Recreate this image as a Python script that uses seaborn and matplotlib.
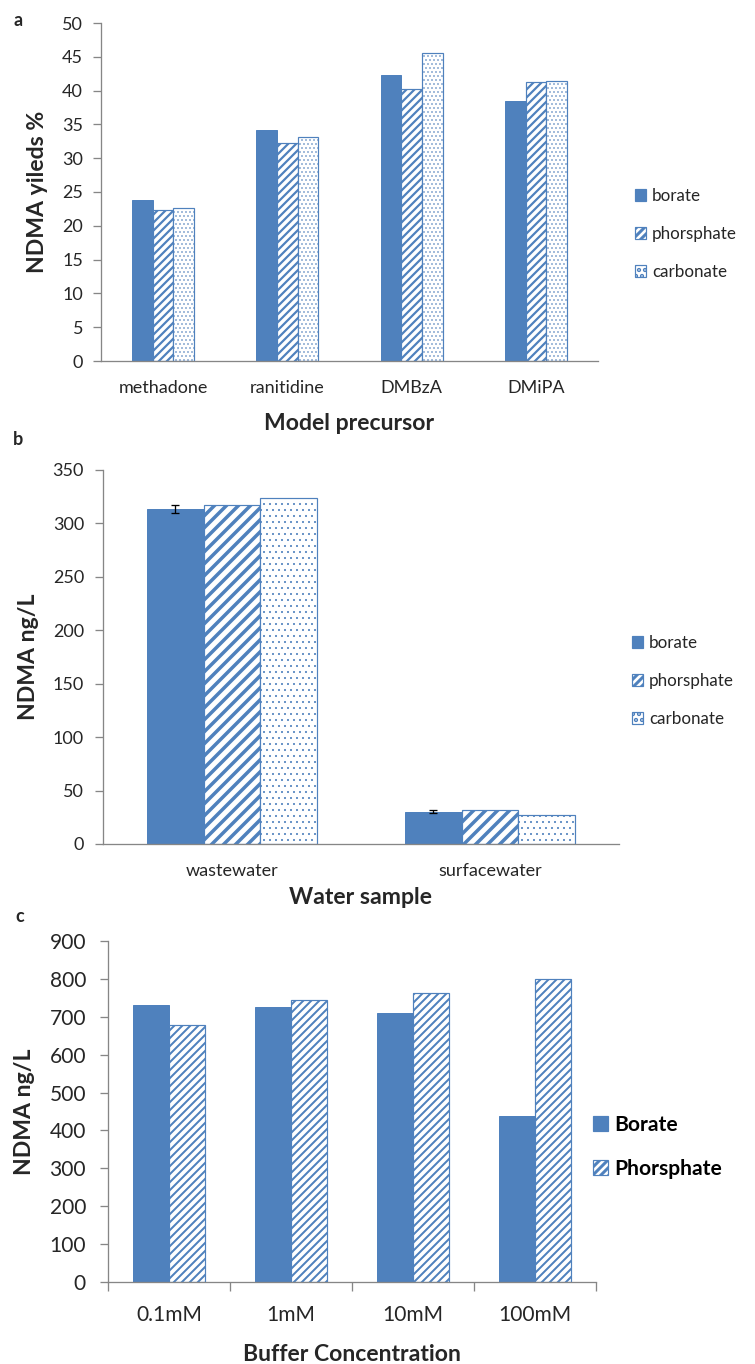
import pandas as pd
import matplotlib
matplotlib.use("Agg")
import matplotlib.pyplot as plt
import matplotlib.patches as mpatches
import seaborn as sns

# Datos del panel a
precursores = ["methadone", "ranitidine", "DMBzA", "DMiPA"]
borate_a = [23.8, 34.2, 42.3, 38.5]
phos_a = [22.3, 32.2, 40.3, 41.2]
carb_a = [22.7, 33.2, 45.6, 41.4]

# Datos del panel b
muestras = ["wastewater", "surfacewater"]
borate_b = [313.5, 30.2]
phos_b = [317.5, 31.8]
carb_b = [323.5, 26.8]
err_borate_b = [3.5, 1.6]

# Datos del panel c
concentraciones = ["0.1mM", "1mM", "10mM", "100mM"]
borate_c = [731, 727, 709, 439]
phos_c = [678, 743, 764, 800]

buffers = ["borate", "phorsphate", "carbonate"]
buffers_c = ["Borate", "Phorsphate"]

AZUL = "#4F81BD"
GRIS = "#868686"
TEXTO = "#262626"

sns.set_style("white")
plt.rcParams["font.family"] = ["Lato", "DejaVu Sans"]
plt.rcParams["hatch.linewidth"] = 3.0

W, H = 755, 1364
fig = plt.figure(figsize=(W / 72, H / 72), dpi=72)


def caja(l, t, r, b):
    return [l / W, 1 - b / H, (r - l) / W, (b - t) / H]


def estilo(ax, ymax, paso, fs, pad):
    ax.set_ylim(0, ymax)
    ax.set_yticks(range(0, ymax + 1, paso))
    for s in ["top", "right"]:
        ax.spines[s].set_visible(False)
    for s in ["left", "bottom"]:
        ax.spines[s].set_color(GRIS)
        ax.spines[s].set_linewidth(1.3)
    ax.tick_params(axis="y", length=8, width=1.3, color=GRIS, pad=pad,
                   labelsize=fs, labelcolor=TEXTO, left=True)
    ax.grid(False)


def rellenos(ax, estilos):
    for cont, (hatch, lw) in zip(ax.containers, estilos):
        for p in cont:
            if hatch is None:
                p.set_facecolor(AZUL)
                p.set_edgecolor(AZUL)
            else:
                p.set_facecolor("white")
                p.set_edgecolor(AZUL)
                p.set_hatch(hatch)
                p.set_linewidth(1.2)
                if hasattr(p, "set_hatch_linewidth"):
                    p.set_hatch_linewidth(lw)


def mango(hatch, lw):
    h = mpatches.Patch(facecolor=AZUL if hatch is None else "white",
                       edgecolor=AZUL, hatch=hatch, linewidth=1.2)
    if hatch is not None and hasattr(h, "set_hatch_linewidth"):
        h.set_hatch_linewidth(lw)
    return h


def etiquetas(ax, xl, yl, xpos, ypos, fs):
    ax.set_xlabel(xl, fontsize=fs, fontweight="bold")
    ax.set_ylabel(yl, fontsize=fs, fontweight="bold")
    ax.xaxis.label.set_va("center")
    ax.yaxis.label.set_va("center")
    ax.xaxis.set_label_coords(0.5, xpos)
    ax.yaxis.set_label_coords(ypos, 0.5)


# ---------- Panel a ----------
df_a = pd.DataFrame({
    "precursor": precursores * 3,
    "valor": borate_a + phos_a + carb_a,
    "buffer": sum([[b] * len(precursores) for b in buffers], []),
})
ax1 = fig.add_axes(caja(101, 23, 598, 361))
sns.barplot(data=df_a, x="precursor", y="valor", hue="buffer", hue_order=buffers,
            palette=[AZUL] * 3, width=0.5, gap=0, errorbar=None, legend=False, ax=ax1)
estilo(ax1, 50, 5, 18, 10)
est_a = [(None, 0), ("///", 2.2), ("...", 0.7)]
rellenos(ax1, est_a)
ax1.set_xlim(-0.5, 3.5)
ax1.tick_params(axis="x", length=0, pad=19, labelsize=18, labelcolor=TEXTO)
etiquetas(ax1, "Model precursor", "NDMA yileds %", -0.186, -0.127, 23)
ax1.legend([mango(h, lw) for h, lw in [(None, 0), ("///", 2.0), ("..", 0.8)]],
           buffers, loc="center left",
           bbox_to_anchor=(635 / W, 1 - 234 / H), bbox_transform=fig.transFigure,
           frameon=False, fontsize=17, handlelength=0.65, handleheight=0.65,
           labelspacing=1.3, handletextpad=0.35, borderpad=0, borderaxespad=0,
           labelcolor=TEXTO)
fig.text(13 / W, 1 - 20 / H, "a", fontsize=18, fontweight="bold", va="center")

# ---------- Panel b ----------
df_b = pd.DataFrame({
    "muestra": muestras * 3,
    "valor": borate_b + phos_b + carb_b,
    "buffer": sum([[b] * len(muestras) for b in buffers], []),
})
ax2 = fig.add_axes(caja(103, 470, 619, 844))
sns.barplot(data=df_b, x="muestra", y="valor", hue="buffer", hue_order=buffers,
            palette=[AZUL] * 3, width=0.66, gap=0, errorbar=None, legend=False, ax=ax2)
estilo(ax2, 350, 50, 18, 11)
est_b = [(None, 0), ("//", 3.5), ("..", 0.8)]
rellenos(ax2, est_b)
ax2.set_xlim(-0.5, 1.5)
xs = [p.get_x() + p.get_width() / 2 for p in ax2.containers[0]]
ax2.errorbar(xs, borate_b, yerr=err_borate_b, fmt="none", ecolor="black",
             elinewidth=1.3, capsize=4, capthick=1.3)
ax2.tick_params(axis="x", length=0, pad=19, labelsize=18, labelcolor=TEXTO)
etiquetas(ax2, "Water sample", "NDMA ng/L", -0.142, -0.145, 23)
ax2.legend([mango(h, lw) for h, lw in [(None, 0), ("///", 2.0), ("..", 0.8)]],
           buffers, loc="center left",
           bbox_to_anchor=(632 / W, 1 - 681 / H), bbox_transform=fig.transFigure,
           frameon=False, fontsize=17, handlelength=0.65, handleheight=0.65,
           labelspacing=1.3, handletextpad=0.35, borderpad=0, borderaxespad=0,
           labelcolor=TEXTO)
fig.text(13 / W, 1 - 440 / H, "b", fontsize=18, fontweight="bold", va="center")

# ---------- Panel c ----------
df_c = pd.DataFrame({
    "conc": concentraciones * 2,
    "valor": borate_c + phos_c,
    "buffer": sum([[b] * len(concentraciones) for b in buffers_c], []),
})
ax3 = fig.add_axes(caja(108, 941, 596, 1282))
sns.barplot(data=df_c, x="conc", y="valor", hue="buffer", hue_order=buffers_c,
            palette=[AZUL] * 2, width=0.59, gap=0, errorbar=None, legend=False, ax=ax3)
estilo(ax3, 900, 100, 21, 14)
est_c = [(None, 0), ("///", 2.0)]
rellenos(ax3, est_c)
ax3.set_xlim(-0.5, 3.5)
ax3.set_xticks([i - 0.5 for i in range(len(concentraciones) + 1)], minor=True)
ax3.tick_params(axis="x", which="minor", length=9, width=1.3, color=GRIS, bottom=True)
ax3.tick_params(axis="x", which="major", length=0, pad=23, labelsize=21, labelcolor=TEXTO)
etiquetas(ax3, "Buffer Concentration", "NDMA ng/L", -0.214, -0.172, 23)
ax3.legend([mango(h, lw) for h, lw in est_c], buffers_c, loc="center left",
           bbox_to_anchor=(593 / W, 1 - 1147 / H), bbox_transform=fig.transFigure,
           frameon=False, prop={"weight": "bold", "size": 21},
           handlelength=0.7, handleheight=0.7, labelspacing=1.15,
           handletextpad=0.3, borderpad=0, borderaxespad=0, labelcolor="black")
fig.text(15 / W, 1 - 917 / H, "c", fontsize=18, fontweight="bold", va="center")

fig.savefig("out.png", dpi=72)
